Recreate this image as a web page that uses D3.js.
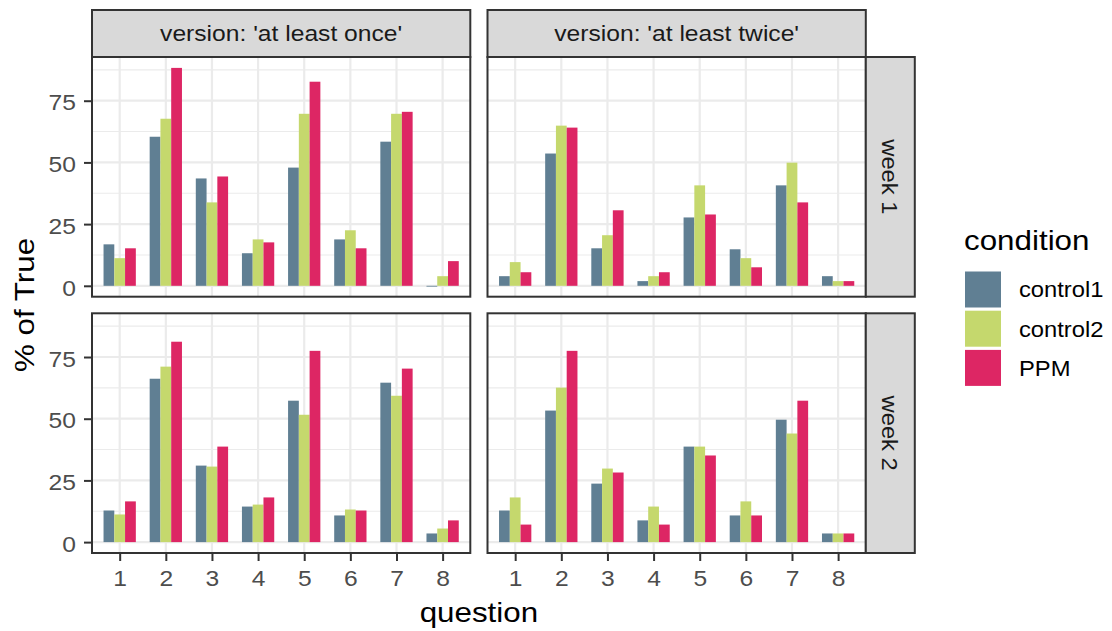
<!DOCTYPE html>
<html>
<head>
<meta charset="utf-8">
<script src="https://cdn.jsdelivr.net/npm/d3@7"></script>
<style>
  html, body { margin: 0; padding: 0; background: #ffffff; }
  svg { display: block; font-family: "Liberation Sans", Arial, Helvetica, sans-serif; }
</style>
</head>
<body>
<svg id="chart" width="1112" height="631"></svg>
<script>
// ---- data -------------------------------------------------------------
const questions  = ["1", "2", "3", "4", "5", "6", "7", "8"];
const conditions = ["control1", "control2", "PPM"];
const versions   = ["version: 'at least once'", "version: 'at least twice'"];
const weeks      = ["week 1", "week 2"];
const yTicks     = [0, 25, 50, 75];

// % of True per question, one array per facet and condition
const onceWeek1Control1  = [16.8, 60.4, 43.5, 13.2, 47.9, 18.8, 58.4, 0];
const onceWeek1Control2  = [11.2, 67.7, 33.8, 18.8, 69.7, 22.5, 69.7, 3.9];
const onceWeek1PPM       = [15.2, 88.3, 44.3, 17.6, 82.7, 15.2, 70.5, 10.0];

const twiceWeek1Control1 = [3.9, 53.6, 15.2, 1.9, 27.7, 14.8, 40.7, 3.9];
const twiceWeek1Control2 = [9.6, 64.9, 20.5, 3.9, 40.7, 11.2, 49.9, 1.9];
const twiceWeek1PPM      = [5.5, 64.1, 30.6, 5.5, 28.9, 7.5, 33.8, 1.9];

const onceWeek2Control1  = [12.8, 66.2, 31.0, 14.4, 57.3, 10.8, 64.6, 3.5];
const onceWeek2Control2  = [11.2, 71.1, 30.6, 15.2, 51.6, 13.2, 59.3, 5.5];
const onceWeek2PPM       = [16.5, 81.2, 38.7, 18.1, 77.5, 12.8, 70.3, 8.8];

const twiceWeek2Control1 = [12.8, 53.3, 23.7, 8.8, 38.7, 10.8, 49.6, 3.5];
const twiceWeek2Control2 = [18.1, 62.6, 29.8, 14.4, 38.7, 16.5, 44.0, 3.5];
const twiceWeek2PPM      = [7.1, 77.5, 28.2, 7.1, 35.1, 10.8, 57.3, 3.5];

const conditionColors = ["#607f93", "#c5d86d", "#dd2664"];

// facet grid: rows = week, columns = version
const panelData = [
  [[onceWeek1Control1, onceWeek1Control2, onceWeek1PPM],
   [twiceWeek1Control1, twiceWeek1Control2, twiceWeek1PPM]],
  [[onceWeek2Control1, onceWeek2Control2, onceWeek2PPM],
   [twiceWeek2Control1, twiceWeek2Control2, twiceWeek2PPM]]
];

// ---- layout -----------------------------------------------------------
const svg = d3.select("#chart");
const panelX0 = 92, panelW = 378.3, colGap = 17.2;
const panelY0 = 57, panelH = 239.7, rowGap = 16.6;
const stripH = 47, stripW = 49;
const ink = "#333333", gridCol = "#ebebeb", stripFill = "#d9d9d9";
const smallSize = 22, titleSize = 28, wide = 1.12;   // text is set slightly wide

// draw a text element stretched horizontally along its reading direction
function wideText(parent, x, y, str, opts = {}) {
  const rot = opts.rotate || 0;
  return parent.append("text")
    .attr("transform", `translate(${x},${y}) rotate(${rot}) scale(${opts.sx || wide},1)`)
    .attr("text-anchor", opts.anchor || "start")
    .attr("font-size", opts.size || smallSize)
    .attr("fill", opts.fill || "#000000")
    .text(str);
}

// re-anchor d3 axis tick labels so they can be widened in place
function widenTicks(sel) {
  sel.each(function () {
    const t = d3.select(this);
    const tx = +t.attr("x") || 0, ty = +t.attr("y") || 0;
    t.attr("x", 0).attr("y", 0)
      .attr("transform", `translate(${tx},${ty}) scale(${wide},1)`);
  });
}

const allValues = panelData.flat(3);
const yMin = Math.min(0, d3.min(allValues)), yMax = d3.max(allValues);
const pad = (yMax - yMin) * 0.05;
const y = d3.scaleLinear().domain([yMin - pad, yMax + pad]).range([panelH, 0]);
const yMinor = d3.range(12.5, yMax + pad, 25);

// discrete x with 0.6 units of padding on either side
const x = d3.scalePoint().domain(questions).range([0, panelW]).padding(0.6);
const unit = x.step();
const groupWidth = 0.7 * unit;
const xSub = d3.scaleBand().domain(conditions).range([-groupWidth / 2, groupWidth / 2]);

const colColor = d3.scaleOrdinal().domain(conditions).range(conditionColors);

function panelLeft(c) { return panelX0 + c * (panelW + colGap); }
function panelTop(r)  { return panelY0 + r * (panelH + rowGap); }

for (let r = 0; r < weeks.length; r++) {
  for (let c = 0; c < versions.length; c++) {
    const g = svg.append("g").attr("transform", `translate(${panelLeft(c)},${panelTop(r)})`);

    g.append("rect").attr("width", panelW).attr("height", panelH).attr("fill", "#ffffff");

    // grid
    g.selectAll(".minor").data(yMinor).join("line")
      .attr("x1", 0).attr("x2", panelW)
      .attr("y1", d => y(d)).attr("y2", d => y(d))
      .attr("stroke", gridCol).attr("stroke-width", 1.1);
    g.selectAll(".majorY").data(yTicks).join("line")
      .attr("x1", 0).attr("x2", panelW)
      .attr("y1", d => y(d)).attr("y2", d => y(d))
      .attr("stroke", gridCol).attr("stroke-width", 2.2);
    g.selectAll(".majorX").data(questions).join("line")
      .attr("x1", d => x(d)).attr("x2", d => x(d))
      .attr("y1", 0).attr("y2", panelH)
      .attr("stroke", gridCol).attr("stroke-width", 2.2);

    // bars
    const rows = [];
    conditions.forEach((cond, k) => {
      panelData[r][c][k].forEach((v, i) => rows.push({ q: questions[i], cond, v }));
    });
    g.selectAll(".bar").data(rows).join("rect")
      .attr("x", d => x(d.q) + xSub(d.cond))
      .attr("width", xSub.bandwidth())
      .attr("y", d => Math.min(y(d.v), y(0)))
      .attr("height", d => Math.max(0.8, Math.abs(y(0) - y(d.v))))
      .attr("fill", d => colColor(d.cond));

    // border
    g.append("rect").attr("width", panelW).attr("height", panelH)
      .attr("fill", "none").attr("stroke", ink).attr("stroke-width", 2);

    // y axis on the left column
    if (c === 0) {
      const ya = g.append("g").call(d3.axisLeft(y).tickValues(yTicks).tickSize(8).tickPadding(8));
      ya.select(".domain").remove();
      ya.selectAll(".tick line").attr("stroke", ink).attr("stroke-width", 2);
      ya.selectAll(".tick text").attr("fill", "#4d4d4d").attr("font-size", smallSize)
        .attr("font-family", "Liberation Sans, Arial, sans-serif").attr("dy", "0.42em")
        .call(widenTicks);
    }
    // x axis on the bottom row
    if (r === weeks.length - 1) {
      const xa = g.append("g").attr("transform", `translate(0,${panelH})`)
        .call(d3.axisBottom(x).tickSize(8).tickPadding(9.5));
      xa.select(".domain").remove();
      xa.selectAll(".tick line").attr("stroke", ink).attr("stroke-width", 2);
      xa.selectAll(".tick text").attr("fill", "#4d4d4d").attr("font-size", smallSize)
        .attr("font-family", "Liberation Sans, Arial, sans-serif")
        .call(widenTicks);
    }
  }
}

// column strips
versions.forEach((v, c) => {
  const s = svg.append("g").attr("transform", `translate(${panelLeft(c)},${panelY0 - stripH})`);
  s.append("rect").attr("width", panelW).attr("height", stripH)
    .attr("fill", stripFill).attr("stroke", ink).attr("stroke-width", 2);
  wideText(s, panelW / 2, stripH / 2 + 0.36 * smallSize, v, { anchor: "middle", fill: "#1a1a1a" });
});

// row strips
weeks.forEach((w, r) => {
  const left = panelLeft(versions.length - 1) + panelW;
  const s = svg.append("g").attr("transform", `translate(${left},${panelTop(r)})`);
  s.append("rect").attr("width", stripW).attr("height", panelH)
    .attr("fill", stripFill).attr("stroke", ink).attr("stroke-width", 2);
  wideText(s, stripW / 2 - 0.36 * smallSize, panelH / 2, w,
    { anchor: "middle", fill: "#1a1a1a", rotate: 90, sx: 1.08 });
});

// axis titles
const plotMidX = (panelX0 + panelLeft(versions.length - 1) + panelW) / 2;
const plotMidY = (panelY0 + panelTop(weeks.length - 1) + panelH) / 2;
wideText(svg, plotMidX, 621.5, "question", { anchor: "middle", size: titleSize });
wideText(svg, 34, plotMidY, "% of True", { anchor: "middle", size: titleSize, rotate: -90 });

// legend
const legend = svg.append("g").attr("transform", "translate(964,0)");
wideText(legend, 0, 250, "condition", { size: titleSize });
const keys = legend.selectAll(".key").data(conditions).join("g")
  .attr("transform", (d, i) => `translate(1,${271.5 + i * 39.2})`);
keys.append("rect").attr("width", 36).attr("height", 36).attr("fill", d => colColor(d));
keys.each(function (d) {
  wideText(d3.select(this), 54, 18 + 0.36 * smallSize, d, { sx: 1.08 });
});
</script>
</body>
</html>
